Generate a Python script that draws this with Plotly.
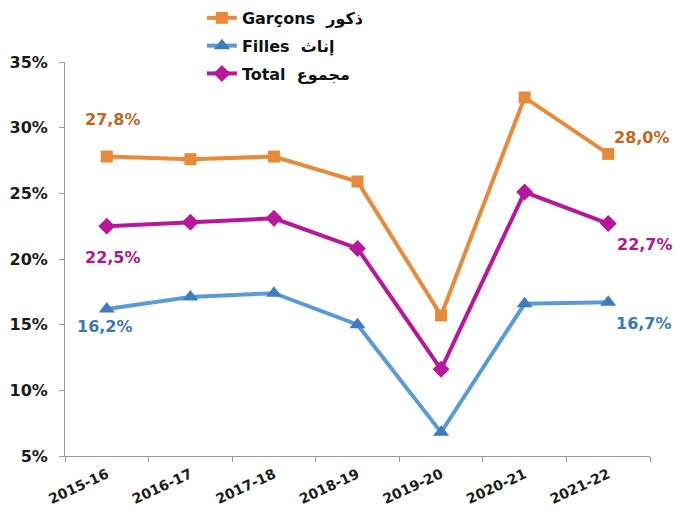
import plotly.graph_objects as go

years = ["2015-16", "2016-17", "2017-18", "2018-19", "2019-20", "2020-21", "2021-22"]
garcons = [27.8, 27.6, 27.8, 25.9, 15.7, 32.3, 28.0]
filles = [16.2, 17.1, 17.4, 15.0, 6.8, 16.6, 16.7]
total = [22.5, 22.8, 23.1, 20.8, 11.6, 25.1, 22.7]
names = ["Garçons  ذكور", "Filles  إناث", "Total  مجموع"]

FONT = "DejaVu Sans, sans-serif"
series = [
    (names[0], garcons, "#E98A3A", "#E98A3A", "square", 12, "#C4661E"),
    (names[1], filles, "#5B9BD5", "#3E7CC0", "triangle-up", 14, "#3C78B6"),
    (names[2], total, "#B8179B", "#B8179B", "diamond", 13, "#B0158F"),
]
# label offsets (first point, last point)
offsets = [((6, 37), (34, 16)), ((-2, -18), (36, -21)), ((6, -31), (37, -21))]

fig = go.Figure()
annotations = []
for i, (name, vals, lc, mc, sym, ms, tc) in enumerate(series):
    fig.add_trace(go.Scatter(
        x=years, y=vals, name=name, mode="lines+markers",
        line=dict(color=lc, width=4),
        marker=dict(symbol=sym, size=ms, color=mc),
        legendgroup=name,
    ))
    for idx, (xs, ys) in zip([0, len(vals) - 1], offsets[i]):
        annotations.append(dict(
            x=years[idx], y=vals[idx], xref="x", yref="y",
            text=f"{vals[idx]:.1f}%".replace(".", ","),
            showarrow=False, xshift=xs, yshift=ys,
            font=dict(family=FONT, size=16, color=tc, weight="bold"),
        ))

fig.update_layout(
    width=676, height=508,
    margin=dict(l=65, r=26, t=62, b=52, autoexpand=False),
    plot_bgcolor="white", paper_bgcolor="white",
    font=dict(family=FONT, color="#1a1a1a"),
    annotations=annotations,
    legend=dict(
        x=0.234, y=1.155, xanchor="left", yanchor="top",
        font=dict(family=FONT, size=16, color="#111", weight="bold"),
        tracegroupgap=4, bgcolor="rgba(0,0,0,0)",
    ),
    showlegend=True,
)
fig.update_xaxes(
    range=[-0.5, len(years) - 0.5],
    showline=True, linecolor="#999", linewidth=1, showgrid=False,
    ticks="outside", ticklen=5, tickcolor="#999", tickson="boundaries",
    ticklabelstandoff=4,
    tickangle=-25, tickfont=dict(family=FONT, size=14, color="#1a1a1a", weight="bold"),
)
fig.update_yaxes(
    range=[5, 35], dtick=5, ticksuffix="%",
    showline=True, linecolor="#999", linewidth=1, showgrid=False,
    ticks="outside", ticklen=5, tickcolor="#999", zeroline=False,
    ticklabelstandoff=8,
    tickfont=dict(family=FONT, size=16, color="#1a1a1a", weight="bold"),
)
fig.write_html(
    "out.html",
    config={"displayModeBar": False},
    post_script="document.body.style.margin='0';document.body.style.overflow='hidden';",
)
